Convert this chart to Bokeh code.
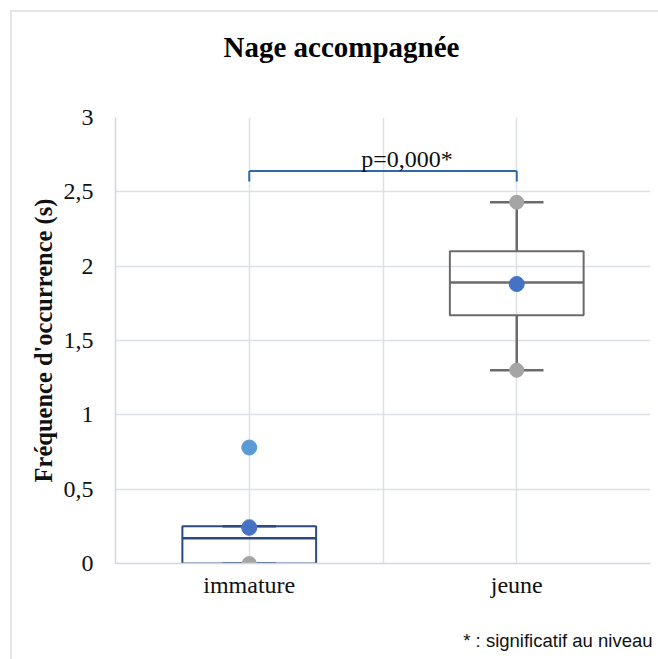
from bokeh.plotting import figure
from bokeh.models import Range1d, FixedTicker, Label, Title
from bokeh.embed import file_html
from bokeh.resources import INLINE

# ---- data ----
categories = ["immature", "jeune"]
x_pos = [1, 3]
q1 = [0.0, 1.67]
median = [0.17, 1.89]
q3 = [0.25, 2.10]
whisk_low = [0.0, 1.30]
whisk_high = [0.25, 2.43]
mean = [0.24, 1.88]
outlier_x = [1]
outlier_y = [0.78]
box_colors = ["#2C4A7E", "#6B6B6B"]
y_ticks = [0, 0.5, 1, 1.5, 2, 2.5, 3]
y_tick_labels = ["0", "0,5", "1", "1,5", "2", "2,5", "3"]
p_text = "p=0,000*"
bracket_y = 2.64
bracket_drop = 0.07

SERIF = "Liberation Serif"
GRID = "#DCE1E8"
BORDER = "#E2E6EC"

p = figure(width=658, height=659, output_backend="svg", toolbar_location=None,
           x_range=Range1d(0, 4), y_range=Range1d(0, 3),
           min_border_left=115, min_border_right=8, min_border_top=117, min_border_bottom=96)
p.outline_line_color = None
p.background_fill_color = "white"
p.border_fill_color = None
p.styles = {
    "background-color": "white",
    "background-image": f"linear-gradient({BORDER},{BORDER}), linear-gradient({BORDER},{BORDER})",
    "background-position": "10px 10px, 10px 10px",
    "background-size": "2px 100%, 100% 2px",
    "background-repeat": "no-repeat, no-repeat",
}

# spacer between frame and title (title is stacked outermost)
p.add_layout(Title(text=" ", text_font_size="1px", standoff=47), "above")
# title
p.title = Title(text="Nage accompagnée", align="left", offset=108, standoff=10,
                text_font=SERIF, text_font_style="bold", text_font_size="29px",
                text_color="#000000")

# grids
p.xgrid.ticker = FixedTicker(ticks=[0, 1, 2, 3, 4])
p.ygrid.ticker = FixedTicker(ticks=y_ticks)
p.xgrid.grid_line_color = GRID
p.ygrid.grid_line_color = GRID
p.xgrid.grid_line_width = 1.5
p.ygrid.grid_line_width = 1.5

# axes
p.yaxis.ticker = FixedTicker(ticks=y_ticks)
p.yaxis.major_label_overrides = {t: l for t, l in zip(y_ticks, y_tick_labels)}
p.xaxis.ticker = FixedTicker(ticks=x_pos)
p.xaxis.major_label_overrides = {x: c for x, c in zip(x_pos, categories)}
for ax in (p.xaxis, p.yaxis):
    ax.axis_line_color = "#D0D7E2"
    ax.axis_line_width = 1.5
    ax.major_tick_line_color = None
    ax.minor_tick_line_color = None
    ax.major_tick_out = 0
    ax.major_tick_in = 0
    ax.major_label_text_font = SERIF
    ax.major_label_text_font_size = "24px"
    ax.major_label_text_color = "#111111"
p.yaxis.major_label_standoff = 22
p.xaxis.major_label_standoff = 8
p.yaxis.axis_label = "Fréquence d'occurrence (s)"
p.yaxis.axis_label_text_font = SERIF
p.yaxis.axis_label_text_font_style = "bold"
p.yaxis.axis_label_text_font_size = "24.5px"
p.yaxis.axis_label_text_color = "#111111"
p.yaxis.axis_label_standoff = 4

# spacer below the axis, then footnote
p.add_layout(Title(text=" ", text_font_size="1px", standoff=20), "below")
p.add_layout(Title(text="* : significatif au niveau", align="right", offset=-2, standoff=8,
                   text_font="Liberation Sans", text_font_style="normal",
                   text_font_size="18.5px", text_color="#111111"), "below")

# boxes
hw = 0.5
cw = 0.2
for i in range(len(x_pos)):
    x = x_pos[i]
    c = box_colors[i]
    p.quad(left=[x - hw], right=[x + hw], bottom=[q1[i]], top=[q3[i]],
           fill_color=None, line_color=c, line_width=2)
    p.segment(x0=[x - hw], x1=[x + hw], y0=[median[i]], y1=[median[i]], line_color=c, line_width=2.5)
    p.segment(x0=[x, x], x1=[x, x], y0=[q3[i], whisk_low[i]], y1=[whisk_high[i], q1[i]],
              line_color=c, line_width=2.5)
    p.segment(x0=[x - cw, x - cw], x1=[x + cw, x + cw], y0=[whisk_low[i], whisk_high[i]],
              y1=[whisk_low[i], whisk_high[i]], line_color=c, line_width=2.5)

# extreme points (grey), outlier, mean
p.scatter(x=x_pos + x_pos, y=whisk_low + whisk_high, size=14, color="#A5A5A5")
p.scatter(x=outlier_x, y=outlier_y, size=15, color="#5B9BD5")
p.scatter(x=x_pos, y=mean, size=15, color="#4472C4")

# significance bracket
bc = "#2E6AA6"
p.segment(x0=[x_pos[0], x_pos[0], x_pos[1]], x1=[x_pos[1], x_pos[0], x_pos[1]],
          y0=[bracket_y, bracket_y, bracket_y], y1=[bracket_y, bracket_y - bracket_drop, bracket_y - bracket_drop],
          line_color=bc, line_width=2)
p.add_layout(Label(x=2.18, y=bracket_y, y_offset=12, text=p_text, text_align="center",
                   text_baseline="alphabetic", text_font=SERIF, text_font_size="24px", text_color="#111111"))

open("out.html", "w").write(file_html(p, INLINE))
